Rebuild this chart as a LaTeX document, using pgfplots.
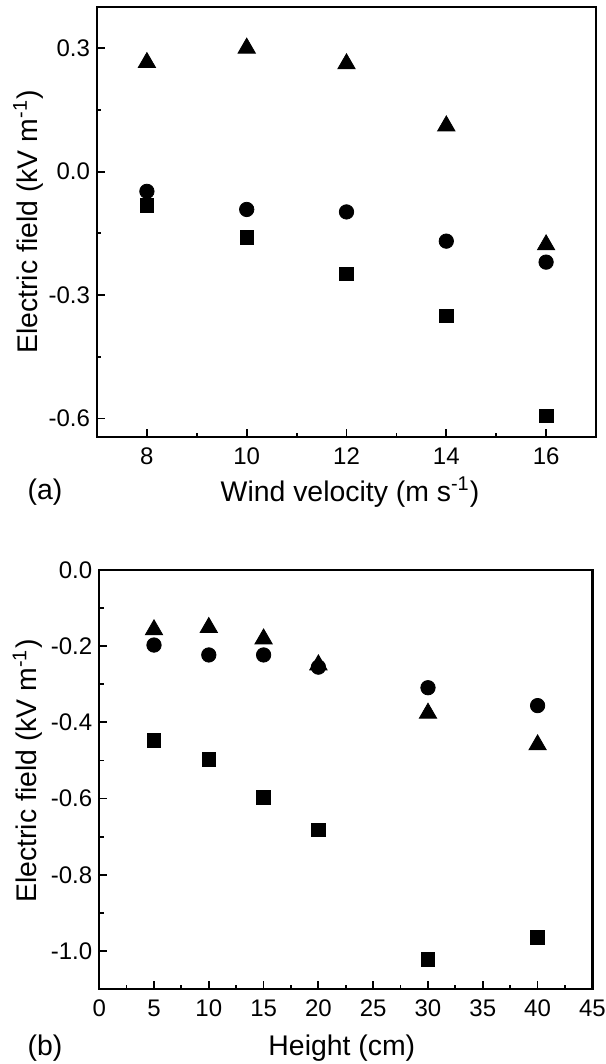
\documentclass[border=0pt]{standalone}
\usepackage{fontspec}
\setmainfont{Liberation Sans}
\usepackage{pgfplots}
\pgfplotsset{compat=1.18}

\pgfplotsset{
  myax/.style={
    scale only axis,
    axis line style={line width=1.2pt},
    every tick/.style={line width=0.9pt, black},
    tick align=inside,
    tick pos=left,
    major tick length=4pt,
    minor tick length=2.2pt,
    minor tick num=1,
    /pgf/number format/assume math mode=true,
    tick label style={font=\fontsize{12}{14}\selectfont},
    label style={font=\fontsize{14.2}{17}\selectfont},
    yticklabel style={/pgf/number format/.cd, fixed, fixed zerofill, precision=1},
    xticklabel style={yshift=-2pt},
  },
  sq/.style={only marks, mark=square*, mark size=3.4pt, black, mark options={fill=black}},
  ci/.style={only marks, mark=*, mark size=3.6pt, black, mark options={fill=black}},
  tr/.style={only marks, mark=triangle*, mark size=5pt, black, mark options={fill=black}},
}

\begin{document}
\begin{tikzpicture}
\useasboundingbox (0,0) rectangle (302.5pt,-532pt);
% ---------------- panel (a)
\begin{axis}[myax,
  at={(48.5pt,-218.5pt)}, anchor=south west,
  width=249.5pt, height=215pt,
  xmin=7, xmax=17, ymin=-0.645, ymax=0.4,
  xtick={8,10,12,14,16},
  ytick={-0.6,-0.3,0,0.3},
  xlabel={Wind velocity (m s\textsuperscript{-1})},
  ylabel={Electric field (kV m\textsuperscript{-1})},
  xlabel style={at={(axis description cs:0.507,-0.128)}, anchor=center},
  ylabel style={at={(axis description cs:-0.138,0.5)}, anchor=center, rotate=0},
  clip=false,
]
\addplot[sq] coordinates {(8,-0.082) (10,-0.160) (12,-0.249) (14,-0.351) (16,-0.594)};
\addplot[ci] coordinates {(8,-0.048) (10,-0.092) (12,-0.098) (14,-0.169) (16,-0.220)};
\addplot[tr] coordinates {(8,0.265) (10,0.300) (12,0.262) (14,0.111) (16,-0.178)};
\node[font=\fontsize{14.2}{17}\selectfont] at (axis description cs:-0.104,-0.128) {(a)};
\end{axis}
% ---------------- panel (b)
\begin{axis}[myax,
  at={(49.6pt,-494.5pt)}, anchor=south west,
  width=246.6pt, height=209.5pt,
  xmin=0, xmax=45, ymin=-1.1, ymax=0,
  xtick={0,5,...,45},
  ytick={-1.0,-0.8,-0.6,-0.4,-0.2,0.0},
  xlabel={Height (cm)},
  ylabel={Electric field (kV m\textsuperscript{-1})},
  xlabel style={at={(axis description cs:0.492,-0.141)}, anchor=center},
  ylabel style={at={(axis description cs:-0.145,0.52)}, anchor=center, rotate=0},
  clip=false,
]
\addplot[sq] coordinates {(5,-0.448) (10,-0.497) (15,-0.597) (20,-0.682) (30,-1.023) (40,-0.965)};
\addplot[ci] coordinates {(5,-0.197) (10,-0.223) (15,-0.223) (20,-0.255) (30,-0.309) (40,-0.356)};
\addplot[tr] coordinates {(5,-0.157) (10,-0.151) (15,-0.181) (20,-0.249) (30,-0.376) (40,-0.459)};
\node[font=\fontsize{14.2}{17}\selectfont] at (axis description cs:-0.110,-0.141) {(b)};
\end{axis}
\end{tikzpicture}
\end{document}
